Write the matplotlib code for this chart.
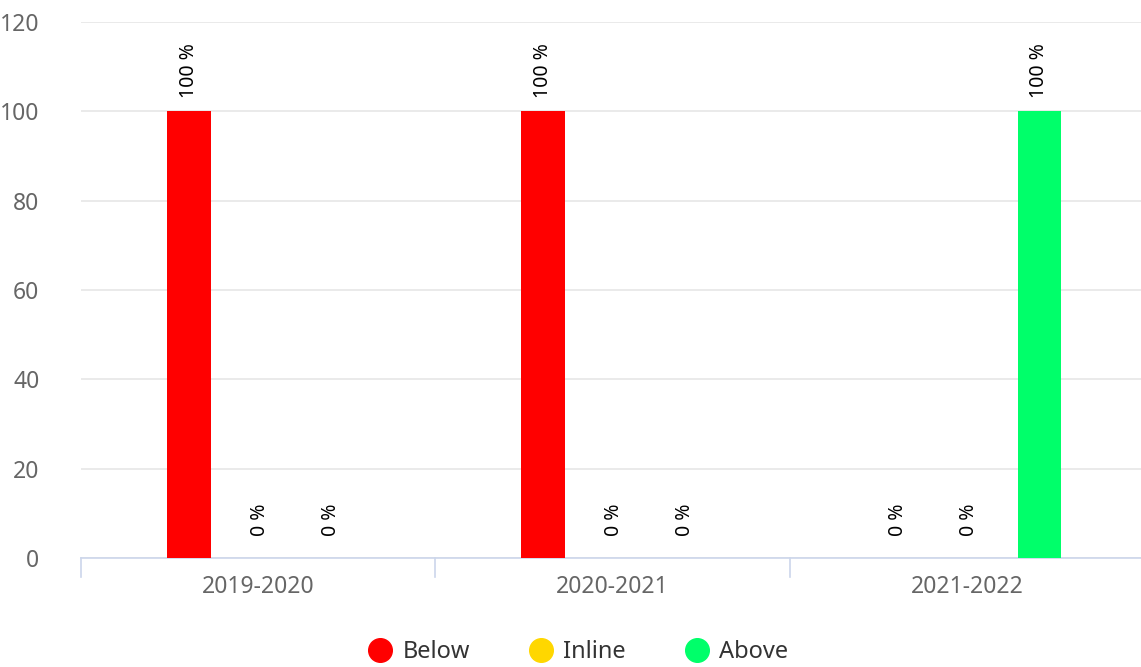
import matplotlib
matplotlib.use("Agg")
import matplotlib.pyplot as plt
from matplotlib.lines import Line2D
import numpy as np

categories = ["2019-2020", "2020-2021", "2021-2022"]
series_names = ["Below", "Inline", "Above"]
below = [100, 100, 0]
inline = [0, 0, 0]
above = [0, 0, 100]
colors = ["#ff0000", "#ffd700", "#00ff6a"]
yticks = [0, 20, 40, 60, 80, 100, 120]

plt.rcParams['font.family'] = ['Noto Sans', 'DejaVu Sans']

fig = plt.figure(figsize=(11.41, 6.67), dpi=100)
ax = fig.add_axes([81/1141, 1-558/667, 1063/1141, (558-22)/667])

x = np.arange(len(categories))
offsets = [-0.195, 0.005, 0.205]
width = 0.124
for vals, off, col in zip([below, inline, above], offsets, colors):
    ax.bar(x + off, vals, width=width, color=col, zorder=3)
    for xi, v in zip(x + off, vals):
        pad = 13 if v > 0 else 22
        ax.annotate(f"{v} %", (xi, v), xytext=(0, pad), textcoords="offset pixels",
                    rotation=90, ha="center", va="bottom", fontsize=14, color="black",
                    fontweight="medium")

ax.set_xlim(-0.5, 2.5)
ax.set_ylim(0, 120)
ax.set_yticks(yticks)
ax.set_yticklabels([str(t) for t in yticks])
ax.grid(axis="y", color="#e6e6e6", linewidth=1.2, zorder=0)
for s in ["top", "right", "left"]:
    ax.spines[s].set_visible(False)
ax.spines["bottom"].set_color("#ccd6eb")
ax.spines["bottom"].set_linewidth(1.2)
ax.tick_params(axis="y", length=0, pad=30, labelsize=16.5, labelcolor="#666666")
ax.set_xticks(x)
ax.set_xticklabels(categories)
ax.tick_params(axis="x", length=0, pad=12, labelsize=16.5, labelcolor="#666666")
for b in [-0.5, 0.5, 1.5]:
    ax.plot([b, b], [0, -0.035], transform=ax.get_xaxis_transform(), color="#ccd6eb",
            linewidth=1.2, clip_on=False)

handles = [Line2D([], [], marker="o", linestyle="none", markersize=17,
                  markerfacecolor=c, markeredgecolor=c) for c in colors]
fig.legend(handles, series_names, loc="center", bbox_to_anchor=(0.507, 1-652/667), ncol=3,
           frameon=False, fontsize=17, labelcolor="#333333", handletextpad=0.45,
           columnspacing=2.5, handlelength=1.0)

fig.savefig("out.png", dpi=100)
